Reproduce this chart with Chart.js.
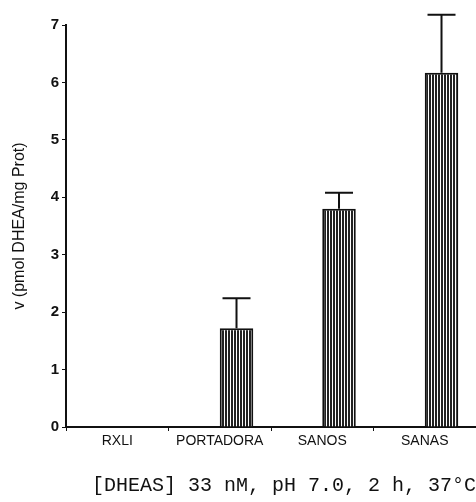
<!DOCTYPE html>
<html>
<head>
<meta charset="utf-8">
<script src="https://cdn.jsdelivr.net/npm/chart.js@4"></script>
<style>
  html, body { margin: 0; padding: 0; background: #fff; }
  #wrap { width: 476px; height: 502px; }
</style>
</head>
<body>
<div id="wrap"><canvas id="barChart" width="476" height="502"></canvas></div>
<script>
  const categories = ["RXLI", "PORTADORA", "SANOS", "SANAS"];
  const meanValues = [0, 1.72, 3.8, 6.17];
  const errorTops = [null, 2.24, 4.08, 7.18];
  const yTicks = [0, 1, 2, 3, 4, 5, 6, 7];

  // vertical hatch fill like the old printed bars
  function makeHatch() {
    const c = document.createElement("canvas");
    c.width = 3;
    c.height = 8;
    const g = c.getContext("2d");
    g.fillStyle = "#fff";
    g.fillRect(0, 0, 3, 8);
    g.fillStyle = "#222";
    g.fillRect(0, 0, 2, 8);
    return g.createPattern(c, "repeat");
  }

  // only the upper whisker is drawn in the original
  const errorBars = {
    id: "errorBars",
    afterDatasetsDraw(chart) {
      const meta = chart.getDatasetMeta(1);
      const y = chart.scales.y;
      const ctx = chart.ctx;
      ctx.save();
      ctx.strokeStyle = "#111";
      ctx.lineWidth = 2;
      meta.data.forEach((bar, i) => {
        if (errorTops[i] == null) return;
        const top = y.getPixelForValue(errorTops[i]);
        ctx.beginPath();
        ctx.moveTo(bar.x, bar.y);
        ctx.lineTo(bar.x, top);
        ctx.moveTo(bar.x - 14, top);
        ctx.lineTo(bar.x + 14, top);
        ctx.stroke();
      });
      ctx.restore();
    },
  };

  new Chart(document.querySelector("#barChart"), {
    type: "bar",
    data: {
      labels: categories,
      datasets: [
        // empty slot so the bars sit right of the label like in the figure
        { label: "", data: categories.map(() => null) },
        {
          label: "v",
          data: meanValues,
          backgroundColor: makeHatch(),
          borderColor: "#111",
          borderWidth: 2,
        },
      ],
    },
    options: {
      responsive: false,
      animation: false,
      categoryPercentage: 0.654,
      barPercentage: 1,
      layout: { padding: { top: 25, right: 0, left: 0, bottom: 0 } },
      plugins: {
        legend: { display: false },
        tooltip: { enabled: false },
      },
      scales: {
        x: {
          grid: {
            offset: true,
            drawOnChartArea: false,
            color: "#111",
            tickLength: 4,
          },
          border: { color: "#111", width: 2 },
          ticks: {
            color: "#111",
            font: { family: "Liberation Sans", size: 14 },
            padding: 2,
          },
          title: {
            display: true,
            text: "[DHEAS] 33 nM, pH 7.0, 2 h, 37°C",
            color: "#111",
            align: "end",
            font: { family: "Liberation Mono", size: 20 },
            padding: { top: 27, bottom: 4 },
          },
          afterFit(scale) {
            scale.height = 75;
          },
        },
        y: {
          min: 0,
          max: 7,
          afterBuildTicks(scale) {
            scale.ticks = yTicks.map((v) => ({ value: v }));
          },
          grid: {
            drawOnChartArea: false,
            color: "#111",
            tickLength: 4,
          },
          border: { color: "#111", width: 2 },
          ticks: {
            color: "#111",
            font: { family: "Liberation Sans", size: 15, weight: "bold" },
            padding: 3,
          },
          title: {
            display: true,
            text: "v (pmol DHEA/mg Prot)",
            color: "#111",
            font: { family: "Liberation Sans", size: 16 },
            padding: { top: 10, bottom: 10 },
          },
          afterFit(scale) {
            scale.width = 66;
          },
        },
      },
    },
    plugins: [errorBars],
  });
</script>
</body>
</html>
